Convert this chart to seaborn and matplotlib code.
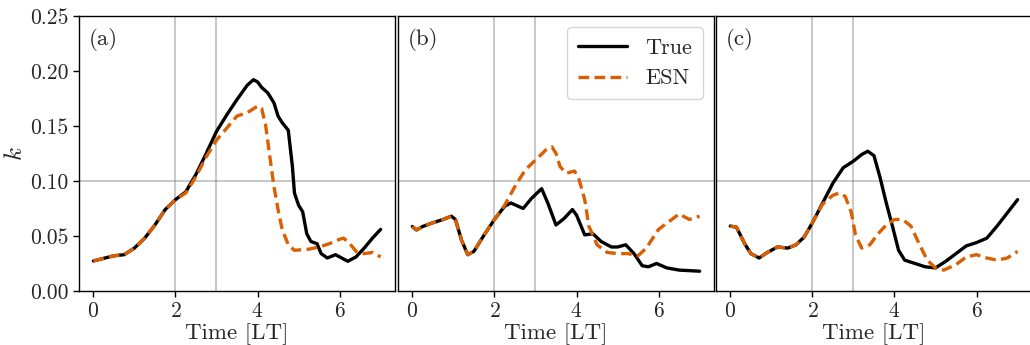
import numpy as np
import pandas as pd
import matplotlib
matplotlib.use("Agg")
import matplotlib.pyplot as plt
import seaborn as sns

# ---- data ----
a_true_t = [0, 0.5, 0.75, 1, 1.25, 1.5, 1.75, 2, 2.25, 2.5, 2.75, 3, 3.25, 3.5, 3.75, 3.9, 4.0, 4.1,
            4.25, 4.4, 4.5, 4.6, 4.75, 4.85, 4.9, 5.0, 5.1, 5.2, 5.3, 5.45, 5.55, 5.7, 5.9, 6.0, 6.2,
            6.4, 6.6, 6.8, 7.0]
a_true_k = [0.0273, 0.032, 0.033, 0.039, 0.048, 0.060, 0.074, 0.083, 0.090, 0.106, 0.125, 0.145,
            0.160, 0.174, 0.187, 0.192, 0.190, 0.185, 0.180, 0.171, 0.159, 0.153, 0.146, 0.113,
            0.089, 0.078, 0.072, 0.052, 0.045, 0.043, 0.034, 0.030, 0.033, 0.031, 0.027, 0.031,
            0.039, 0.048, 0.056]
a_esn_t = [0, 0.5, 0.75, 1, 1.25, 1.5, 1.75, 2, 2.25, 2.5, 2.75, 3, 3.25, 3.5, 3.75, 4.0, 4.1, 4.2,
           4.3, 4.4, 4.5, 4.6, 4.75, 4.9, 5.25, 5.5, 5.75, 6.0, 6.1, 6.25, 6.4, 6.6, 6.8, 7.0]
a_esn_k = [0.0273, 0.032, 0.033, 0.039, 0.048, 0.060, 0.074, 0.083, 0.089, 0.104, 0.122, 0.137,
           0.148, 0.159, 0.162, 0.168, 0.166, 0.150, 0.122, 0.095, 0.074, 0.056, 0.042, 0.037,
           0.038, 0.040, 0.043, 0.047, 0.048, 0.043, 0.036, 0.034, 0.035, 0.031]

b_true_t = [0, 0.1, 0.25, 0.5, 0.75, 0.95, 1.05, 1.2, 1.35, 1.5, 1.75, 2, 2.25, 2.4, 2.7, 2.9, 3.15,
            3.3, 3.5, 3.7, 3.9, 4.0, 4.2, 4.4, 4.6, 4.85, 5.0, 5.2, 5.4, 5.6, 5.75, 5.95, 6.2, 6.5, 7.0]
b_true_k = [0.0586, 0.0555, 0.0586, 0.062, 0.065, 0.068, 0.065, 0.046, 0.033, 0.036, 0.051, 0.065,
            0.077, 0.080, 0.075, 0.084, 0.093, 0.080, 0.060, 0.066, 0.074, 0.069, 0.051, 0.052,
            0.045, 0.040, 0.040, 0.042, 0.034, 0.023, 0.022, 0.025, 0.021, 0.019, 0.018]
b_esn_t = [0, 0.1, 0.25, 0.5, 0.75, 0.95, 1.05, 1.2, 1.35, 1.5, 1.75, 2, 2.25, 2.5, 2.75, 3.0, 3.25,
           3.4, 3.5, 3.6, 3.75, 3.95, 4.05, 4.2, 4.3, 4.5, 4.75, 5.0, 5.25, 5.5, 5.7, 6.0, 6.25,
           6.5, 6.75, 7.0]
b_esn_k = [0.0586, 0.0555, 0.0586, 0.062, 0.065, 0.068, 0.065, 0.046, 0.033, 0.036, 0.051, 0.065,
           0.078, 0.095, 0.110, 0.119, 0.128, 0.131, 0.125, 0.113, 0.107, 0.109, 0.103, 0.083,
           0.059, 0.042, 0.035, 0.034, 0.034, 0.032, 0.039, 0.056, 0.063, 0.070, 0.065, 0.068]

c_true_t = [0, 0.15, 0.35, 0.5, 0.7, 0.9, 1.15, 1.4, 1.6, 1.8, 2.0, 2.25, 2.5, 2.75, 3.0, 3.2, 3.35,
            3.5, 3.65, 3.8, 3.95, 4.1, 4.25, 4.5, 4.75, 5.0, 5.25, 5.5, 5.75, 6.0, 6.25, 6.5, 6.75,
            7.0]
c_true_k = [0.059, 0.058, 0.043, 0.034, 0.030, 0.035, 0.040, 0.039, 0.042, 0.049, 0.062, 0.080,
            0.098, 0.112, 0.118, 0.124, 0.127, 0.123, 0.103, 0.080, 0.059, 0.037, 0.028, 0.025,
            0.022, 0.021, 0.027, 0.034, 0.041, 0.044, 0.048, 0.059, 0.071, 0.083]
c_esn_t = [0, 0.15, 0.35, 0.5, 0.7, 0.9, 1.15, 1.4, 1.6, 1.8, 2.0, 2.25, 2.5, 2.65, 2.8, 2.95, 3.05,
           3.2, 3.4, 3.6, 3.8, 4.0, 4.2, 4.4, 4.6, 4.8, 5.0, 5.2, 5.5, 5.75, 6.0, 6.25, 6.5, 6.75,
           7.0]
c_esn_k = [0.059, 0.058, 0.043, 0.034, 0.030, 0.035, 0.040, 0.039, 0.042, 0.049, 0.062, 0.079,
           0.087, 0.089, 0.086, 0.071, 0.051, 0.039, 0.042, 0.052, 0.060, 0.065, 0.065, 0.059,
           0.043, 0.028, 0.021, 0.019, 0.024, 0.031, 0.033, 0.030, 0.028, 0.030, 0.036]

panel_labels = ["(a)", "(b)", "(c)"]
series_names = ["True", "ESN"]
x_ticks = [0, 2, 4, 6]
y_ticks = [0.00, 0.05, 0.10, 0.15, 0.20, 0.25]
vlines = [2, 3]
hline = 0.1

panels = [(a_true_t, a_true_k, a_esn_t, a_esn_k),
          (b_true_t, b_true_k, b_esn_t, b_esn_k),
          (c_true_t, c_true_k, c_esn_t, c_esn_k)]

sns.set_style("ticks")
plt.rcParams["font.family"] = ["cmr10", "DejaVu Serif"]
plt.rcParams["mathtext.fontset"] = "cm"
plt.rcParams["axes.formatter.use_mathtext"] = True
plt.rcParams["axes.unicode_minus"] = False
plt.rcParams["font.size"] = 16

fig = plt.figure(figsize=(10.3, 3.45), dpi=100)
lefts = [0.0767, 0.3864, 0.6951]
width = 0.3068
axes = []
for i, left in enumerate(lefts):
    ax = fig.add_axes([left, 0.1565, width, 0.7975], sharey=axes[0] if axes else None)
    axes.append(ax)

palette = {"True": "black", "ESN": "#d95f02"}
for i, (ax, (tt, tk, et, ek)) in enumerate(zip(axes, panels)):
    df = pd.concat([
        pd.DataFrame({"t": tt, "k": tk, "s": series_names[0]}),
        pd.DataFrame({"t": et, "k": ek, "s": series_names[1]}),
    ])
    for v in vlines:
        ax.axvline(v, color="gray", alpha=0.5, lw=1.2, zorder=1)
    ax.axhline(hline, color="gray", alpha=0.5, lw=1.2, zorder=1)
    sns.lineplot(data=df, x="t", y="k", hue="s", style="s", palette=palette,
                 dashes={"True": "", "ESN": (3.2, 1.6)}, lw=2.4, ax=ax,
                 legend=(i == 1), sort=False, zorder=3)
    ax.set_ylim(0, 0.25)
    ax.set_xlim(-0.35, 7.35)
    ax.set_xticks(x_ticks)
    ax.set_yticks(y_ticks)
    ax.yaxis.set_major_formatter(matplotlib.ticker.FormatStrFormatter("%.2f"))
    ax.set_xlabel("Time [LT]", fontsize=16.5, labelpad=2)
    for sp in ax.spines.values():
        sp.set_color("black")
        sp.set_linewidth(1.0)
    ax.text(0.03, 0.955, panel_labels[i], transform=ax.transAxes, ha="left", va="top",
            fontsize=16.5)
    if i == 0:
        ax.set_ylabel("$k$", fontsize=18, labelpad=2)
    else:
        ax.set_ylabel("")
        ax.tick_params(axis="y", left=False, labelleft=False)
    ax.tick_params(axis="both", labelsize=15.5, length=4, width=1, color="black")

leg = axes[1].legend(loc="upper right", fontsize=16, frameon=True, handlelength=2.2,
                     borderpad=0.5, labelspacing=0.5)
leg.get_frame().set_alpha(0.8)
leg.get_frame().set_edgecolor("#cccccc")
leg.set_title(None)

fig.savefig("out.png", dpi=100)
